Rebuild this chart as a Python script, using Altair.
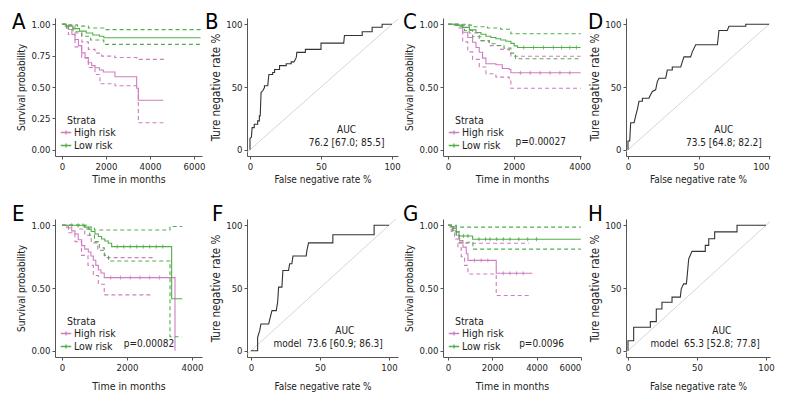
import altair as alt
import pandas as pd

FONT = "DejaVu Sans Condensed, Roboto Condensed, Roboto, sans-serif"
PINK = "#CF7DC0"
GREEN = "#52AE4A"
INK = "#222222"

# ---------------- Panel A (Kaplan-Meier) ----------------
A_hi_t = [0, 150, 290, 450, 590, 750, 894, 1050, 1197, 1350, 1500, 1700, 1879, 2409, 3394, 3470, 4606]
A_hi_s = [1.0, 0.985, 0.958, 0.92, 0.879, 0.83, 0.772, 0.73, 0.693, 0.67, 0.653, 0.635, 0.619, 0.582, 0.49, 0.394, 0.394]
A_hi_up_t = [0, 300, 591, 900, 1197, 1500, 1803, 2400, 3400, 4606]
A_hi_up_s = [1.0, 0.99, 0.93, 0.86, 0.80, 0.77, 0.746, 0.735, 0.72, 0.71]
A_hi_lo_t = [0, 288, 591, 894, 1197, 1500, 1727, 2409, 3394, 3470, 4606]
A_hi_lo_s = [1.0, 0.918, 0.82, 0.735, 0.655, 0.60, 0.526, 0.51, 0.49, 0.215, 0.215]
A_lo_t = [0, 200, 500, 800, 1100, 1400, 1700, 1900, 6300]
A_lo_s = [1.0, 0.985, 0.965, 0.945, 0.93, 0.915, 0.905, 0.893, 0.893]
A_lo_up_t = [0, 300, 700, 1200, 1900, 6300]
A_lo_up_s = [1.0, 0.995, 0.985, 0.97, 0.957, 0.957]
A_lo_lo_t = [0, 200, 500, 900, 1300, 1900, 6300]
A_lo_lo_s = [1.0, 0.97, 0.94, 0.905, 0.875, 0.84, 0.84]

# ---------------- Panel C ----------------
C_hi_t = [0, 250, 445, 600, 748, 850, 950, 1050, 1152, 1455, 1650, 1859, 1910, 4030]
C_hi_s = [1.0, 0.99, 0.937, 0.895, 0.857, 0.815, 0.777, 0.73, 0.685, 0.677, 0.648, 0.64, 0.613, 0.613]
C_hi_up_t = [0, 300, 646, 950, 1253, 1600, 1859, 1910, 4030]
C_hi_up_s = [1.0, 1.0, 0.93, 0.87, 0.83, 0.80, 0.778, 0.745, 0.745]
C_hi_lo_t = [0, 300, 445, 600, 748, 950, 1152, 1455, 1859, 1910, 4030]
C_hi_lo_s = [1.0, 0.97, 0.86, 0.78, 0.72, 0.66, 0.606, 0.579, 0.548, 0.49, 0.49]
C_lo_t = [0, 200, 445, 650, 850, 1000, 1152, 1300, 1455, 1600, 1758, 1910, 2011, 2112, 4030]
C_lo_s = [1.0, 0.993, 0.975, 0.955, 0.935, 0.92, 0.905, 0.895, 0.885, 0.875, 0.865, 0.848, 0.828, 0.815, 0.815]
C_lo_up_t = [0, 400, 800, 1200, 1600, 1910, 4030]
C_lo_up_s = [1.0, 0.993, 0.98, 0.97, 0.96, 0.925, 0.925]
C_lo_lo_t = [0, 300, 500, 748, 1000, 1250, 1455, 1700, 1910, 2050, 4030]
C_lo_lo_s = [1.0, 0.98, 0.95, 0.90, 0.87, 0.845, 0.831, 0.81, 0.77, 0.725, 0.725]
C_hi_cens_t = [2200, 2500, 2800, 3100, 3400, 3700]
C_hi_cens_s = [0.613, 0.613, 0.613, 0.613, 0.613, 0.613]
C_lo_cens_t = [2300, 2600, 2900, 3200, 3450, 3700, 3900]
C_lo_cens_s = [0.815, 0.815, 0.815, 0.815, 0.815, 0.815, 0.815]

# ---------------- Panel E ----------------
E_hi_t = [0, 150, 300, 400, 500, 605, 700, 810, 890, 964, 1040, 1118, 1200, 1300, 3477]
E_hi_s = [1.0, 0.98, 0.955, 0.93, 0.885, 0.838, 0.81, 0.787, 0.755, 0.721, 0.68, 0.643, 0.62, 0.583, 0.0]
E_hi_up_t = [0, 300, 500, 700, 900, 1100, 1313, 2790]
E_hi_up_s = [1.0, 1.0, 0.97, 0.92, 0.86, 0.80, 0.742, 0.742]
E_hi_lo_t = [0, 200, 400, 600, 800, 964, 1118, 1300, 2800]
E_hi_lo_s = [1.0, 0.94, 0.87, 0.76, 0.68, 0.60, 0.53, 0.445, 0.445]
E_lo_t = [0, 700, 810, 900, 1015, 1120, 1220, 1320, 1425, 1528, 3374, 3703]
E_lo_s = [1.0, 0.985, 0.969, 0.95, 0.93, 0.91, 0.891, 0.875, 0.857, 0.83, 0.414, 0.414]
E_lo_up_t = [0, 810, 1000, 3323, 3700]
E_lo_up_s = [1.0, 0.985, 0.962, 0.99, 0.99]
E_lo_lo_t = [0, 700, 850, 1000, 1150, 1300, 1433, 3323, 3690]
E_lo_lo_s = [1.0, 0.97, 0.92, 0.87, 0.82, 0.76, 0.715, 0.112, 0.112]
E_hi_cens_t = [1500, 1800, 2100, 2400, 2700, 3000]
E_hi_cens_s = [0.583, 0.583, 0.583, 0.583, 0.583, 0.583]
E_lo_cens_t = [300, 500, 650, 1700, 1900, 2100, 2300, 2500, 2700, 2900, 3100]
E_lo_cens_s = [1.0, 1.0, 1.0, 0.83, 0.83, 0.83, 0.83, 0.83, 0.83, 0.83, 0.83]

# ---------------- Panel G ----------------
G_hi_t = [0, 100, 226, 376, 526, 677, 827, 902, 2180, 3810]
G_hi_s = [1.0, 0.985, 0.956, 0.92, 0.878, 0.826, 0.773, 0.72, 0.617, 0.617]
G_hi_up_t = [0, 226, 376, 511, 3650]
G_hi_up_s = [1.0, 0.99, 0.95, 0.857, 0.857]
G_hi_lo_t = [0, 150, 300, 450, 600, 750, 902, 2180, 3650]
G_hi_lo_s = [1.0, 0.95, 0.89, 0.82, 0.75, 0.68, 0.612, 0.44, 0.44]
G_lo_t = [0, 150, 250, 376, 500, 1113, 6000]
G_lo_s = [1.0, 0.99, 0.975, 0.945, 0.915, 0.889, 0.889]
G_lo_up_t = [0, 376, 6000]
G_lo_up_s = [1.0, 0.985, 0.985]
G_lo_lo_t = [0, 200, 376, 500, 1128, 6000]
G_lo_lo_s = [1.0, 0.96, 0.92, 0.865, 0.81, 0.81]
G_hi_cens_t = [1200, 1500, 1800, 2500, 2800, 3100, 3400]
G_hi_cens_s = [0.72, 0.72, 0.72, 0.617, 0.617, 0.617, 0.617]
G_lo_cens_t = [700, 900, 1400, 1700, 1900, 2200, 2500, 2800, 3200, 3600, 4000]
G_lo_cens_s = [0.915, 0.915, 0.889, 0.889, 0.889, 0.889, 0.889, 0.889, 0.889, 0.889, 0.889]

# ---------------- ROC curves ----------------
B_fpr = [0, 0, 1, 1.5, 3, 3, 5.4, 5.4, 6.6, 6.6, 7.2, 7.8, 9, 10.2, 10.2, 12.5, 13.3, 16, 16, 17.3, 17.3, 20.8, 20.8, 25.5, 25.5, 29, 29, 31, 32.6, 33, 39, 39, 50, 50, 66, 66.5, 79, 79, 86, 86, 93, 93, 100]
B_tpr = [0, 9, 10, 17.6, 17.6, 20.3, 20.3, 23, 23, 27, 27, 45.6, 47, 49.6, 51, 51, 60, 60, 61.6, 61.6, 64, 64, 67, 67, 68.5, 68.5, 70, 70, 73.6, 77.6, 77.6, 80, 80, 85, 85, 91, 91, 94, 94, 97.6, 97.6, 100, 100]
D_fpr = [0, 0, 1.2, 1.9, 4.3, 5.4, 6.6, 7.8, 10.2, 10.2, 14.9, 16, 17.3, 19.6, 20.8, 22, 26.7, 27.9, 31.4, 31.4, 37.4, 38.5, 39.7, 44.4, 45.6, 48, 63.4, 64.5, 70.4, 71.6, 83.5, 83.5, 100]
D_tpr = [0, 7, 7, 21.5, 21.5, 26.8, 32, 38.6, 38.6, 41, 41, 43.8, 46.5, 47.8, 54.3, 57, 57, 63.5, 63.5, 66, 66, 70, 74, 74, 78, 83.7, 83.7, 95, 95, 98.4, 98.4, 100, 100]
F_fpr = [0, 4.8, 4.8, 6.3, 7.2, 12.8, 14, 15.2, 18.3, 19.3, 20, 22.4, 23.1, 27.2, 28, 29.6, 30.4, 40, 40.5, 41.7, 59.3, 59.3, 89.2, 89.2, 100]
F_tpr = [0, 0, 10.7, 16, 21.3, 21.3, 26.7, 32, 32, 38.7, 50.7, 50.7, 64, 64, 69.3, 69.3, 75.5, 75.5, 80, 86, 86, 92.5, 92.5, 100, 100]
H_fpr = [0, 0, 4.1, 4.1, 16.2, 16.2, 20.5, 20.5, 24.6, 24.6, 31.9, 31.9, 37.9, 38.6, 40.3, 42.3, 42.8, 44, 46.4, 56, 56, 58.5, 58.5, 62.8, 62.8, 79, 79, 100]
H_tpr = [0, 8, 8, 18.7, 18.7, 23.2, 23.2, 33.3, 33.3, 38.7, 38.7, 42.7, 42.7, 49.3, 53.3, 53.3, 58.7, 73.3, 79.2, 79.2, 84, 84, 89.3, 89.3, 94.7, 94.7, 100, 100]

AUC_text = {"B": "76.2 [67.0; 85.5]", "D": "73.5 [64.8; 82.2]", "F": "73.6 [60.9; 86.3]", "H": "65.3 [52.8; 77.8]"}
P_text = {"C": "p=0.00027", "E": "p=0.00082", "G": "p=0.0096"}

GROUPS = ["High risk", "Low risk"]
SYMBOL = "M-1,0H1M0,-0.4V0.4"
HEIGHT = 138
FS_TEXT = 10
FS_LETTER = 22


def letter_mark(letter, dx, dy):
    return alt.Chart(pd.DataFrame({"l": [letter]})).mark_text(
        font=FONT, fontSize=FS_LETTER, align="left", baseline="alphabetic", color="#000", clip=False
    ).encode(x=alt.value(dx), y=alt.value(dy), text="l:N")


def km_panel(letter, curves, cens, xdom, xticks, width, dx, dy, xtitlepad, ptext=None, ppos=None):
    rows = []
    for grp, kind, ts, ss in curves:
        for t, s in zip(ts, ss):
            rows.append({"t": t, "s": s, "group": grp, "kind": kind, "key": grp + kind})
    df = pd.DataFrame(rows)
    xs = alt.X("t:Q", scale=alt.Scale(domain=xdom, nice=False, zero=False),
               axis=alt.Axis(values=xticks, format="d", title="Time in months", titlePadding=xtitlepad,
                             titleFontSize=10.5))
    ys = alt.Y("s:Q", scale=alt.Scale(domain=[-0.05, 1.05], nice=False),
               axis=alt.Axis(values=[0, 0.25, 0.5, 0.75, 1.0], format=".2f", title="Survival probability",
                             titleFontSize=10))
    col = alt.Color("group:N", scale=alt.Scale(domain=GROUPS, range=[PINK, GREEN]),
                    legend=alt.Legend(title="\u2800Strata", orient="bottom-left", offset=5,
                                      symbolType=SYMBOL, symbolSize=110, symbolStrokeWidth=1.3,
                                      labelFontSize=10.5, titleFontSize=10.5, titleFontWeight="normal",
                                      labelFont=FONT, titleFont=FONT, labelColor=INK, titleColor=INK,
                                      rowPadding=1, titlePadding=0, padding=0, labelOffset=2))
    lines = alt.Chart(df).mark_line(interpolate="step-after", strokeWidth=1.1, clip=True).encode(
        x=xs, y=ys, color=col,
        strokeDash=alt.StrokeDash("kind:N", scale=alt.Scale(domain=["est", "lower", "upper"],
                                                              range=[[1, 0], [4, 3], [4, 3]]), legend=None),
        detail="key:N",
    )
    layers = [lines]
    if cens:
        crow = []
        for grp, ts, ss in cens:
            for t, s in zip(ts, ss):
                crow.append({"t": t, "s": s, "group": grp})
        cdf = pd.DataFrame(crow)
        layers.append(alt.Chart(cdf).mark_point(shape="M0,-1V1M-0.6,0H0.6", filled=False, size=16,
                                                strokeWidth=0.8, opacity=1).encode(
            x="t:Q", y="s:Q", color=alt.Color("group:N")))
    if ptext:
        pdf = pd.DataFrame({"t": [ppos[0]], "s": [ppos[1]], "label": [ptext]})
        layers.append(alt.Chart(pdf).mark_text(font=FONT, fontSize=FS_TEXT, color=INK).encode(
            x="t:Q", y="s:Q", text="label:N"))
    layers.append(letter_mark(letter, dx, dy))
    return alt.layer(*layers).properties(width=width, height=HEIGHT)


def roc_panel(letter, fpr, tpr, auc, model, xdom, width, dx, dy, xtitlepad):
    df = pd.DataFrame({"fpr": fpr, "tpr": tpr, "i": list(range(len(fpr)))})
    xs = alt.X("fpr:Q", scale=alt.Scale(domain=xdom, nice=False, zero=False),
               axis=alt.Axis(values=[0, 25, 50, 75, 100], title="False negative rate %", titlePadding=xtitlepad,
                             titleFontSize=10))
    ys = alt.Y("tpr:Q", scale=alt.Scale(domain=[-5, 105], nice=False, zero=False),
               axis=alt.Axis(values=[0, 25, 50, 75, 100], title="Ture negative rate %", titleFontSize=11.5))
    diag = pd.DataFrame({"fpr": [xdom[0], min(xdom[1], 105)], "tpr": [xdom[0], min(xdom[1], 105)]})
    d = alt.Chart(diag).mark_line(color="#cccccc", strokeWidth=0.8, clip=True).encode(x=xs, y=ys)
    c = alt.Chart(df).mark_line(color="#333333", strokeWidth=1.1).encode(x="fpr:Q", y="tpr:Q", order="i:Q")
    tx = [68, 68]
    ty = [16, 5.6]
    lab = ["AUC", auc]
    if model:
        tx.append(26.5)
        ty.append(5.6)
        lab.append("model")
    tdf = pd.DataFrame({"fpr": tx, "tpr": ty, "label": lab})
    t = alt.Chart(tdf).mark_text(font=FONT, fontSize=FS_TEXT, color=INK).encode(x="fpr:Q", y="tpr:Q", text="label:N")
    return alt.layer(d, c, t, letter_mark(letter, dx, dy)).properties(width=width, height=HEIGHT)


A = km_panel("A", [
    ("High risk", "est", A_hi_t, A_hi_s), ("High risk", "upper", A_hi_up_t, A_hi_up_s),
    ("High risk", "lower", A_hi_lo_t, A_hi_lo_s),
    ("Low risk", "est", A_lo_t, A_lo_s), ("Low risk", "upper", A_lo_up_t, A_lo_up_s),
    ("Low risk", "lower", A_lo_lo_t, A_lo_lo_s)], None,
    [-318, 6364], [0, 2000, 4000, 6000], 147, -43, 11, 4)
C = km_panel("C", [
    ("High risk", "est", C_hi_t, C_hi_s), ("High risk", "upper", C_hi_up_t, C_hi_up_s),
    ("High risk", "lower", C_hi_lo_t, C_hi_lo_s),
    ("Low risk", "est", C_lo_t, C_lo_s), ("Low risk", "upper", C_lo_up_t, C_lo_up_s),
    ("Low risk", "lower", C_lo_lo_t, C_lo_lo_s)],
    [("High risk", C_hi_cens_t, C_hi_cens_s), ("Low risk", C_lo_cens_t, C_lo_cens_s)],
    [-152, 4040], [0, 1000, 2000, 3000, 4000], 138, -40, 11, 4, P_text["C"], (2818, 0.063))
E = km_panel("E", [
    ("High risk", "est", E_hi_t, E_hi_s), ("High risk", "upper", E_hi_up_t, E_hi_up_s),
    ("High risk", "lower", E_hi_lo_t, E_hi_lo_s),
    ("Low risk", "est", E_lo_t, E_lo_s), ("Low risk", "upper", E_lo_up_t, E_lo_up_s),
    ("Low risk", "lower", E_lo_lo_t, E_lo_lo_s)],
    [("High risk", E_hi_cens_t, E_hi_cens_s), ("Low risk", E_lo_cens_t, E_lo_cens_s)],
    [-215, 4308], [0, 1000, 2000, 3000, 4000], 147, -43, 2, 10, P_text["E"], (2677, 0.05))
G = km_panel("G", [
    ("High risk", "est", G_hi_t, G_hi_s), ("High risk", "upper", G_hi_up_t, G_hi_up_s),
    ("High risk", "lower", G_hi_lo_t, G_hi_lo_s),
    ("Low risk", "est", G_lo_t, G_lo_s), ("Low risk", "upper", G_lo_up_t, G_lo_up_s),
    ("Low risk", "lower", G_lo_lo_t, G_lo_lo_s)],
    [("High risk", G_hi_cens_t, G_hi_cens_s), ("Low risk", G_lo_cens_t, G_lo_cens_s)],
    [-225, 6010], [0, 2000, 4000, 6000], 138, -40, 2, 10, P_text["G"], (4226, 0.05))

B = roc_panel("B", B_fpr, B_tpr, AUC_text["B"], False, [-2.1, 104.2], 151, -42, 11, 4)
D = roc_panel("D", D_fpr, D_tpr, AUC_text["D"], False, [-1.42, 100.7], 144, -38, 11, 4)
F = roc_panel("F", F_fpr, F_tpr, AUC_text["F"], True, [-2.9, 106.5], 151, -35, 2, 10)
H = roc_panel("H", H_fpr, H_tpr, AUC_text["H"], True, [-1.45, 102.9], 144, -38, 2, 10)

chart = alt.concat(A, B, C, D, E, F, G, H, columns=4, spacing={"row": 63, "column": 45}, bounds="flush").resolve_scale(
    color="independent"
).properties(
    padding={"left": 4, "top": 3, "right": 4, "bottom": 2}
).configure_view(stroke=None).configure_axis(
    grid=False, domainColor="#555555", domainWidth=1, tickColor="#555555", tickSize=3, tickWidth=1,
    labelFont=FONT, labelFontSize=9.5, labelColor=INK, labelPadding=2,
    titleFont=FONT, titleFontSize=10.5, titleFontWeight="normal", titleColor=INK, titlePadding=4,
)

chart.save("out.html", embed_options={"renderer": "svg", "actions": False})
